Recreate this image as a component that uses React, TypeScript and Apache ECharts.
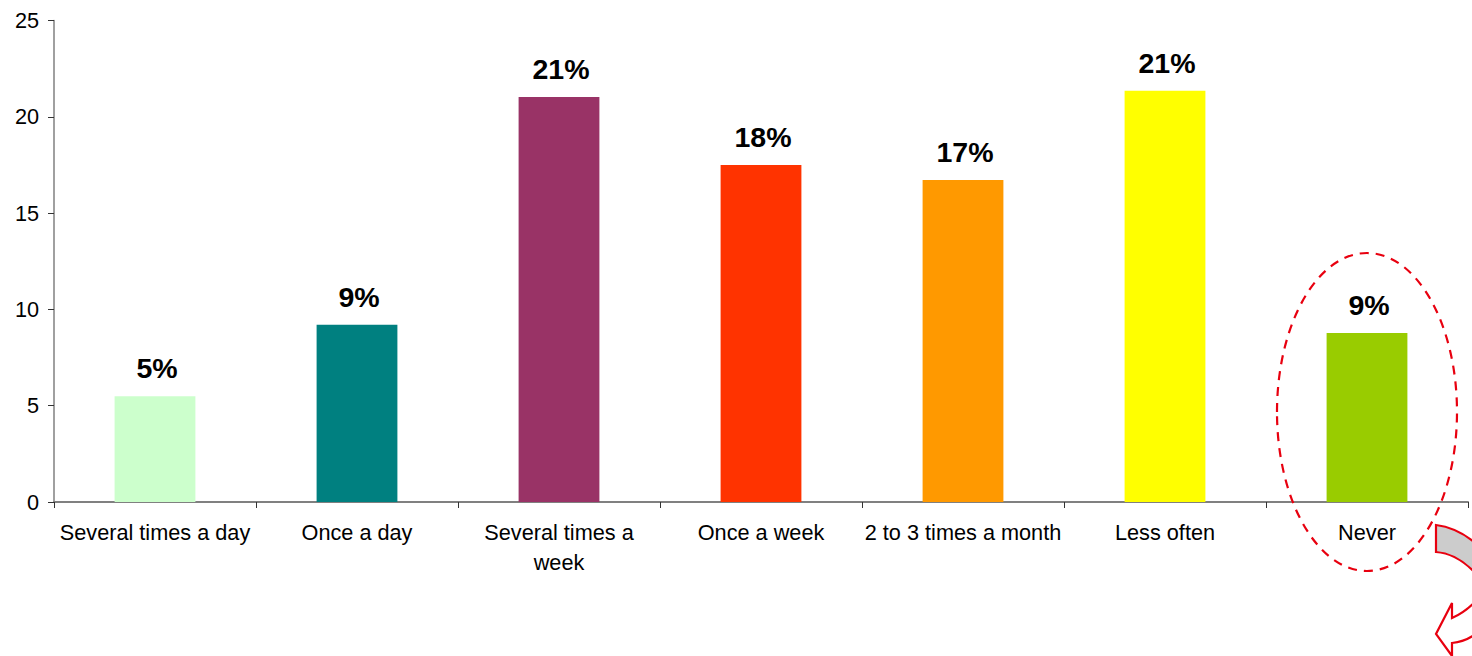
import React, { useEffect, useRef } from "react";
import * as echarts from "echarts";

const categories = [
  "Several times a day",
  "Once a day",
  "Several times a\nweek",
  "Once a week",
  "2 to 3 times a month",
  "Less often",
  "Never",
];
const shares = [5.49, 9.2, 21.03, 17.5, 16.72, 21.35, 8.77];
const barColors = ["#CCFFCC", "#008080", "#993366", "#FF3300", "#FF9900", "#FFFF00", "#99CC00"];
const yTicks = { min: 0, max: 25, interval: 5 };

const FONT = "'Liberation Sans', Arial, sans-serif";
const RED = "#E8000F";

// Curved call-out arrow that runs off the lower right corner of the chart.
echarts.graphic.registerShape(
  "arrowBand",
  echarts.graphic.extendPath(
    "M1436 525 C1452 527 1466 534 1480 547 L1480 578 C1467 563 1452 553 1436 552 Z",
    {}
  )
);
echarts.graphic.registerShape(
  "arrowHead",
  echarts.graphic.extendPath(
    "M1480 596 C1472 606 1463 613 1452 618 L1452 603 L1436 634 L1452 656 L1452 643 C1462 642 1472 638 1480 630",
    {}
  )
);

export default function App() {
  const ref = useRef<HTMLDivElement>(null);

  useEffect(() => {
    document.body.style.margin = "0";
    const chart = echarts.init(ref.current!, undefined, { renderer: "svg" });
    chart.setOption({
      animation: false,
      backgroundColor: "#ffffff",
      grid: { left: 54, right: 4, top: 20.5, bottom: 154, containLabel: false },
      xAxis: {
        type: "category",
        data: categories,
        axisLine: { lineStyle: { color: "#808080", width: 2 } },
        axisTick: { show: true, length: 6, lineStyle: { color: "#333333", width: 1 } },
        axisLabel: {
          interval: 0,
          color: "#000000",
          fontFamily: FONT,
          fontSize: 21.7,
          lineHeight: 30,
          margin: 15,
        },
      },
      yAxis: {
        type: "value",
        ...yTicks,
        splitLine: { show: false },
        axisLine: { show: true, lineStyle: { color: "#808080", width: 1.5 } },
        axisTick: { show: true, length: 6, lineStyle: { color: "#333333", width: 1 } },
        axisLabel: { color: "#000000", fontFamily: FONT, fontSize: 21.7, margin: 15 },
      },
      series: [
        {
          type: "bar",
          barWidth: "40%",
          data: shares.map((value, i) => ({ value, itemStyle: { color: barColors[i] } })),
          label: {
            show: true,
            position: "top",
            distance: 13.5,
            offset: [2, 0],
            color: "#000000",
            fontFamily: FONT,
            fontSize: 28.5,
            fontWeight: "bold",
            formatter: (p: { value: number }) => `${Math.round(p.value)}%`,
          },
        },
      ],
      graphic: [
        {
          type: "ellipse",
          shape: { cx: 1367, cy: 412, rx: 90, ry: 159 },
          style: { fill: "none", stroke: RED, lineWidth: 2.2, lineDash: [9, 7] },
          z: 10,
        },
        {
          type: "arrowBand",
          style: { fill: "#CCCCCC", stroke: RED, lineWidth: 2.2 },
          z: 10,
        },
        {
          type: "arrowHead",
          style: { fill: "#FFFFFF", stroke: RED, lineWidth: 2.2 },
          z: 10,
        },
      ],
    });
    return () => chart.dispose();
  }, []);

  return <div ref={ref} style={{ width: 1472, height: 656, overflow: "hidden" }} />;
}
